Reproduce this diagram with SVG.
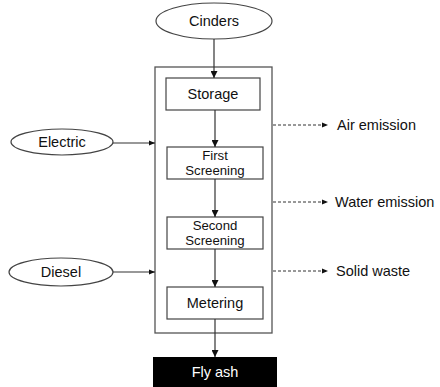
<svg xmlns="http://www.w3.org/2000/svg" width="440" height="387" viewBox="0 0 440 387">
  <style>
    text { font-family: "Liberation Sans", Arial, sans-serif; font-size: 14.5px; fill: #111; text-anchor: middle; }
    .side { text-anchor: start; }
    .two { font-size: 13.2px; }
    .shape { fill: #fff; stroke: #444; stroke-width: 1.2; }
    .frame { fill: none; stroke: #555; stroke-width: 1.3; }
    .flow { fill: none; stroke: #333; stroke-width: 1.2; }
    .dash { fill: none; stroke: #333; stroke-width: 1; stroke-dasharray: 3 2; }
  </style>
  <defs>
    <marker id="arrow" viewBox="0 0 10 10" refX="10" refY="5" markerWidth="7" markerHeight="7" markerUnits="userSpaceOnUse" orient="auto">
      <path d="M0,0 L10,5 L0,10 Z" fill="#111"/>
    </marker>
    <marker id="arrowSmall" viewBox="0 0 10 10" refX="10" refY="5" markerWidth="6" markerHeight="6" markerUnits="userSpaceOnUse" orient="auto">
      <path d="M0,1 L10,5 L0,9 Z" fill="#111"/>
    </marker>
  </defs>

  <!-- process boundary -->
  <rect id="boundary" class="frame" x="155" y="67" width="117" height="266"/>

  <g id="cinders">
    <ellipse class="shape" cx="214" cy="21" rx="58" ry="18"/>
    <text x="214" y="26">Cinders</text>
  </g>
  <g id="electric">
    <ellipse class="shape" cx="62" cy="142" rx="51" ry="13"/>
    <text x="62" y="147">Electric</text>
  </g>
  <g id="diesel">
    <ellipse class="shape" cx="61" cy="272" rx="52" ry="14"/>
    <text x="61" y="277">Diesel</text>
  </g>

  <g id="storage">
    <rect class="shape" x="166" y="78" width="94" height="32"/>
    <text x="213" y="99">Storage</text>
  </g>
  <g id="first-screening">
    <rect class="shape" x="167" y="147" width="96" height="32"/>
    <text class="two" x="215" y="160">First</text>
    <text class="two" x="215" y="175">Screening</text>
  </g>
  <g id="second-screening">
    <rect class="shape" x="167" y="217" width="96" height="32"/>
    <text class="two" x="215" y="230">Second</text>
    <text class="two" x="215" y="245">Screening</text>
  </g>
  <g id="metering">
    <rect class="shape" x="167" y="287" width="96" height="32"/>
    <text x="215" y="308">Metering</text>
  </g>
  <g id="fly-ash">
    <rect x="153" y="357" width="124" height="32" fill="#000"/>
    <text x="215" y="377" style="fill:#fff">Fly ash</text>
  </g>

  <g id="outputs">
    <text class="side" x="337" y="130">Air emission</text>
    <text class="side" x="335" y="207">Water emission</text>
    <text class="side" x="336" y="276">Solid waste</text>
  </g>

  <g id="connectors">
    <line class="flow" x1="214" y1="39" x2="214" y2="78" marker-end="url(#arrow)"/>
    <line class="flow" x1="215" y1="110" x2="215" y2="147" marker-end="url(#arrow)"/>
    <line class="flow" x1="215" y1="179" x2="215" y2="217" marker-end="url(#arrow)"/>
    <line class="flow" x1="215" y1="249" x2="215" y2="287" marker-end="url(#arrow)"/>
    <line class="flow" x1="215" y1="319" x2="215" y2="357" marker-end="url(#arrow)"/>
    <line class="flow" x1="113" y1="143" x2="155" y2="143" marker-end="url(#arrowSmall)"/>
    <line class="flow" x1="113" y1="272" x2="155" y2="272" marker-end="url(#arrowSmall)"/>
    <line class="dash" x1="273" y1="125" x2="328" y2="125" marker-end="url(#arrowSmall)"/>
    <line class="dash" x1="273" y1="202" x2="328" y2="202" marker-end="url(#arrowSmall)"/>
    <line class="dash" x1="273" y1="271" x2="328" y2="271" marker-end="url(#arrowSmall)"/>
  </g>
</svg>
